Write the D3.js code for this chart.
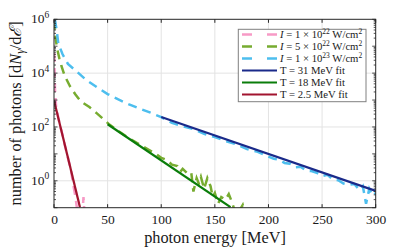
<!DOCTYPE html>
<html><head><meta charset="utf-8">
<script src="https://cdn.jsdelivr.net/npm/d3@7"></script>
<style>body{margin:0;background:#fff}svg{display:block}</style>
</head><body><svg id="c" width="415" height="250"></svg>
<script>
// ---- data ----
const xTicks = [0, 50, 100, 150, 200, 250, 300];
const yTickExps = [0, 2, 4, 6];
const yDomain = [1e-1, 1e6];

const pinkE = [0.2, 0.6, 1.0, 2, 4, 6, 8, 10, 12, 14, 16, 18, 20, 22, 26, 27.5, 29];
const pinkN = [5.6e4, 1e4, 2e3, 560, 220, 100, 50, 22, 10, 5, 2.2, 0.7, 0.25, 0.063, 0.025, 0.25, 0.025];

const greenE = [0.3, 1.5, 3, 5, 7, 10, 15, 20, 25, 33, 40, 47, 52, 60, 70, 80, 90, 95, 100, 105, 110, 115, 118, 120, 125, 128, 130, 133, 135, 137, 140, 143, 146, 148, 150, 153, 156, 160, 163, 166, 170, 176, 180];
const greenN = [8.9e5, 2e5, 7.9e4, 3.5e4, 1.8e4, 7.9e3, 3.2e3, 1.6e3, 890, 550, 320, 180, 120, 71, 38, 22, 13, 10, 7.1, 6.0, 4.0, 3.5, 2.2, 2.8, 1.8, 2.0, 0.4, 1.26, 0.79, 1.4, 0.5, 1.26, 0.63, 0.25, 0.35, 0.14, 0.25, 0.2, 0.32, 0.16, 0.05, 0.126, 0.03];

const blueE = [0.8, 2.5, 4, 8, 13, 20, 30, 40, 50, 60, 70, 80, 90, 100, 110, 120, 130, 140, 150, 160, 170, 180, 190, 200, 205, 210, 215, 220, 225, 230, 235, 240, 245, 250, 255, 260, 265, 270, 275, 280, 285, 288, 291, 294, 297, 300];
const blueN = [1e6, 4e5, 1.26e5, 5e4, 2.2e4, 1.26e4, 5.6e3, 3.0e3, 1.66e3, 1.05e3, 690, 480, 340, 230, 141, 105, 83, 55, 42, 30, 23, 15, 12, 7.9, 6.6, 6.0, 4.6, 4.3, 3.2, 3.3, 2.4, 2.3, 2.0, 1.5, 1.66, 1.12, 1.05, 0.79, 0.71, 0.76, 0.45, 0.63, 0.14, 0.5, 0.28, 0.35];

const fit31E = [100, 300], fit31N = [234, 0.42];
const fit18E = [50, 164.6], fit18N = [126, 0.105];
const fit25E = [0, 24.2], fit25N = [980, 0.105];

const legendLabels = [
  {type: "I", mant: "1", exp: "22"},
  {type: "I", mant: "5", exp: "22"},
  {type: "I", mant: "1", exp: "23"},
  {type: "T", text: "T = 31 MeV fit"},
  {type: "T", text: "T = 18 MeV fit"},
  {type: "T", text: "T = 2.5 MeV fit"}
];

// ---- layout ----
const L = 54, R = 375.7, T = 19.3, B = 207.7;
const svg = d3.select("#c");
const x = d3.scaleLinear().domain([0, 300]).range([L, R]);
const y = d3.scaleLog().domain(yDomain).range([B, T]);
const serif = "'Liberation Serif', 'DejaVu Serif', serif";
const axisCol = "#262626";

svg.append("defs").append("clipPath").attr("id", "clip")
  .append("rect").attr("x", L).attr("y", T).attr("width", R - L).attr("height", B - T);

// grid
const g = svg.append("g");
g.selectAll(".gx").data(xTicks.slice(1, -1)).enter().append("line")
  .attr("x1", d => x(d)).attr("x2", d => x(d)).attr("y1", T).attr("y2", B)
  .attr("stroke", "#e3e3e3").attr("stroke-width", 1);
g.selectAll(".gy").data(yTickExps.slice(0, -1)).enter().append("line")
  .attr("x1", L).attr("x2", R).attr("y1", d => y(Math.pow(10, d))).attr("y2", d => y(Math.pow(10, d)))
  .attr("stroke", "#e3e3e3").attr("stroke-width", 1);

// data
const data = svg.append("g").attr("clip-path", "url(#clip)");
function pts(E, N) { return E.map((e, i) => [e, N[i]]); }
const line = d3.line().x(d => x(d[0])).y(d => y(d[1]));

const dashed = [
  {E: pinkE, N: pinkN, c: "#f79ac6"},
  {E: greenE, N: greenN, c: "#77ac30"},
  {E: blueE, N: blueN, c: "#4dbeee"}
];
const fits = [
  {E: fit31E, N: fit31N, c: "#1a2a8a"},
  {E: fit18E, N: fit18N, c: "#0a7d0a"},
  {E: fit25E, N: fit25N, c: "#a2142f"}
];
dashed.forEach(s => {
  data.append("path").attr("d", line(pts(s.E, s.N))).attr("fill", "none")
    .attr("stroke", s.c).attr("stroke-width", 2.5).attr("stroke-dasharray", "9,6");
});
fits.forEach(s => {
  data.append("path").attr("d", line(pts(s.E, s.N))).attr("fill", "none")
    .attr("stroke", s.c).attr("stroke-width", 2.2);
});

// axes frame
const ax = svg.append("g");
ax.append("rect").attr("x", L).attr("y", T).attr("width", R - L).attr("height", B - T)
  .attr("fill", "none").attr("stroke", axisCol).attr("stroke-width", 1);

// x ticks (inward, bottom and top)
xTicks.forEach(t => {
  ax.append("line").attr("x1", x(t)).attr("x2", x(t)).attr("y1", B).attr("y2", B - 3.5).attr("stroke", axisCol);
  ax.append("line").attr("x1", x(t)).attr("x2", x(t)).attr("y1", T).attr("y2", T + 3.5).attr("stroke", axisCol);
});
// y ticks: major + minor
const yTickVals = [];
for (let k = -1; k < 6; k++) for (let m = 1; m < 10; m++) yTickVals.push(m * Math.pow(10, k));
yTickVals.push(1e6);
yTickVals.forEach(v => {
  const major = Math.abs(Math.log10(v) - Math.round(Math.log10(v))) < 1e-9;
  const len = major ? 3.5 : 2;
  ax.append("line").attr("x1", L).attr("x2", L + len).attr("y1", y(v)).attr("y2", y(v)).attr("stroke", axisCol).attr("stroke-width", 0.8);
  ax.append("line").attr("x1", R).attr("x2", R - len).attr("y1", y(v)).attr("y2", y(v)).attr("stroke", axisCol).attr("stroke-width", 0.8);
});

// x tick labels
const xAxis = d3.axisBottom(x).tickValues(xTicks).tickSize(0).tickPadding(0);
const xg = svg.append("g").attr("transform", `translate(0,${B})`).call(xAxis);
xg.select(".domain").remove();
xg.selectAll("text").attr("font-family", serif).attr("font-size", 13.5).attr("fill", "#1a1a1a")
  .attr("dy", null).attr("y", 16.6);

// y tick labels
yTickExps.forEach(e => {
  const t = svg.append("text").attr("x", 31).attr("y", y(Math.pow(10, e)) + 4)
    .attr("text-anchor", "start").attr("font-family", serif).attr("font-size", 13.5).attr("fill", "#1a1a1a");
  t.append("tspan").text("10");
  t.append("tspan").attr("dy", -5.5).attr("font-size", 9.5).text(String(e));
});

// axis labels
svg.append("text").attr("x", 215).attr("y", 243).attr("text-anchor", "middle")
  .attr("font-family", serif).attr("font-size", 16.3).attr("fill", "#1a1a1a")
  .text("photon energy [MeV]");

const yl = svg.append("text").attr("transform", "translate(20.5,113.3) rotate(-90)")
  .attr("text-anchor", "middle").attr("font-family", serif).attr("font-size", 16.3).attr("fill", "#1a1a1a");
yl.append("tspan").text("number of photons [d");
yl.append("tspan").attr("font-style", "italic").text("N");
yl.append("tspan").attr("font-style", "italic").attr("font-size", 11.5).attr("dy", 3).text("γ");
yl.append("tspan").attr("dy", -3).text("/d");
yl.append("tspan").attr("font-style", "italic").text("ℰ");
yl.append("tspan").text("]");

// legend
const lg = svg.append("g");
lg.append("rect").attr("x", 238.3).attr("y", 29.3).attr("width", 127.7).attr("height", 72.4)
  .attr("fill", "#fff").attr("stroke", "#808080").attr("stroke-width", 1);
const legColors = dashed.map(d => d.c).concat(fits.map(d => d.c));
legendLabels.forEach((lab, i) => {
  const cy = 34.5 + i * 12;
  const ln = lg.append("line").attr("x1", 242).attr("x2", 277).attr("y1", cy).attr("y2", cy)
    .attr("stroke", legColors[i]).attr("stroke-width", 2.2);
  if (i < 3) ln.attr("stroke-dasharray", "10,15").attr("stroke-width", 2.5);
  const t = lg.append("text").attr("x", 280).attr("y", cy + 3.5)
    .attr("font-family", serif).attr("font-size", 10.7).attr("fill", "#1a1a1a");
  if (lab.type === "I") {
    t.append("tspan").attr("font-style", "italic").text("I");
    t.append("tspan").text(` = ${lab.mant} × 10`);
    t.append("tspan").attr("dy", -4).attr("font-size", 7.5).text(lab.exp);
    t.append("tspan").attr("dy", 4).text(" W/cm");
    t.append("tspan").attr("dy", -4).attr("font-size", 7.5).text("2");
  } else {
    t.text(lab.text);
  }
});
</script></body></html>
